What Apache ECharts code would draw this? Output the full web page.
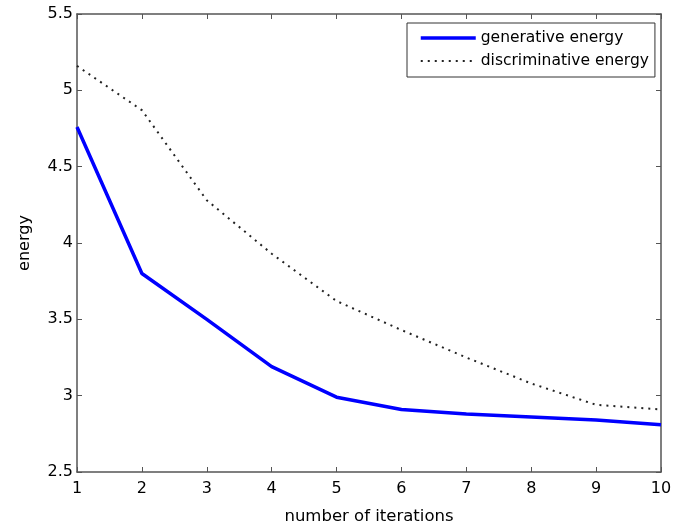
<!DOCTYPE html>
<html>
<head>
<meta charset="utf-8">
<script src="https://cdn.jsdelivr.net/npm/echarts@6/dist/echarts.min.js"></script>
<style>
html,body{margin:0;padding:0;background:#fff;}
#chart{width:689px;height:530px;}
</style>
</head>
<body>
<div id="chart"></div>
<script>
const iterations = [1, 2, 3, 4, 5, 6, 7, 8, 9, 10];
const generativeEnergy = [4.76, 3.80, 3.50, 3.19, 2.99, 2.91, 2.88, 2.86, 2.84, 2.81];
const discriminativeEnergy = [5.16, 4.87, 4.28, 3.93, 3.62, 3.43, 3.25, 3.08, 2.94, 2.91];
const seriesNames = ['generative energy', 'discriminative energy'];
const xLabel = 'number of iterations';
const yLabel = 'energy';

const FONT = 'DejaVu Sans';
const AX = '#555';

const chart = echarts.init(document.getElementById('chart'), null, {renderer: 'canvas'});

function pairs(xs, ys) { return xs.map((x, i) => [x, ys[i]]); }

const tickStyle = {show: true, inside: true, length: 5, lineStyle: {color: AX, width: 1}};
const lineStyleAx = {show: true, onZero: false, lineStyle: {color: AX, width: 1.5}};

chart.setOption({
  animation: false,
  backgroundColor: '#fff',
  grid: {left: 77, right: 28, top: 14, bottom: 56, containLabel: false},
  legend: {
    orient: 'vertical',
    left: 407,
    top: 23,
    padding: [7, 6, 8, 12],
    itemGap: 7,
    itemWidth: 55,
    itemHeight: 14,
    borderColor: '#333',
    borderWidth: 1,
    backgroundColor: '#fff',
    itemStyle: {opacity: 0},
    lineStyle: {width: 'inherit'},
    textStyle: {fontFamily: FONT, fontSize: 15.5, color: '#000', lineHeight: 14},
    data: seriesNames
  },
  xAxis: [{
    type: 'value', min: 1, max: 10, interval: 1,
    name: xLabel, nameLocation: 'middle', nameGap: 36,
    nameTextStyle: {fontFamily: FONT, fontSize: 16.5, color: '#000'},
    axisLine: lineStyleAx, axisTick: tickStyle,
    axisLabel: {fontFamily: FONT, fontSize: 16, color: '#000', margin: 9},
    splitLine: {show: false}
  }, {
    type: 'value', min: 1, max: 10, interval: 1, position: 'top',
    axisLine: lineStyleAx, axisTick: tickStyle,
    axisLabel: {show: false}, splitLine: {show: false}
  }],
  yAxis: [{
    type: 'value', min: 2.5, max: 5.5, interval: 0.5,
    name: yLabel, nameLocation: 'middle', nameGap: 44, nameRotate: 90,
    nameTextStyle: {fontFamily: FONT, fontSize: 16, color: '#000'},
    axisLine: lineStyleAx, axisTick: tickStyle,
    axisLabel: {fontFamily: FONT, fontSize: 16, color: '#000', margin: 4},
    splitLine: {show: false}
  }, {
    type: 'value', min: 2.5, max: 5.5, interval: 0.5, position: 'right',
    axisLine: lineStyleAx, axisTick: tickStyle,
    axisLabel: {show: false}, splitLine: {show: false}
  }],
  series: [{
    name: seriesNames[0],
    type: 'line',
    data: pairs(iterations, generativeEnergy),
    symbol: 'none',
    lineStyle: {color: '#0000ff', width: 3.5},
    itemStyle: {color: '#0000ff'},
    z: 3
  }, {
    name: seriesNames[1],
    type: 'line',
    data: pairs(iterations, discriminativeEnergy),
    symbol: 'none',
    lineStyle: {color: '#222', width: 2, type: [2, 5]},
    itemStyle: {color: '#222'},
    z: 2
  }]
});
</script>
</body>
</html>
